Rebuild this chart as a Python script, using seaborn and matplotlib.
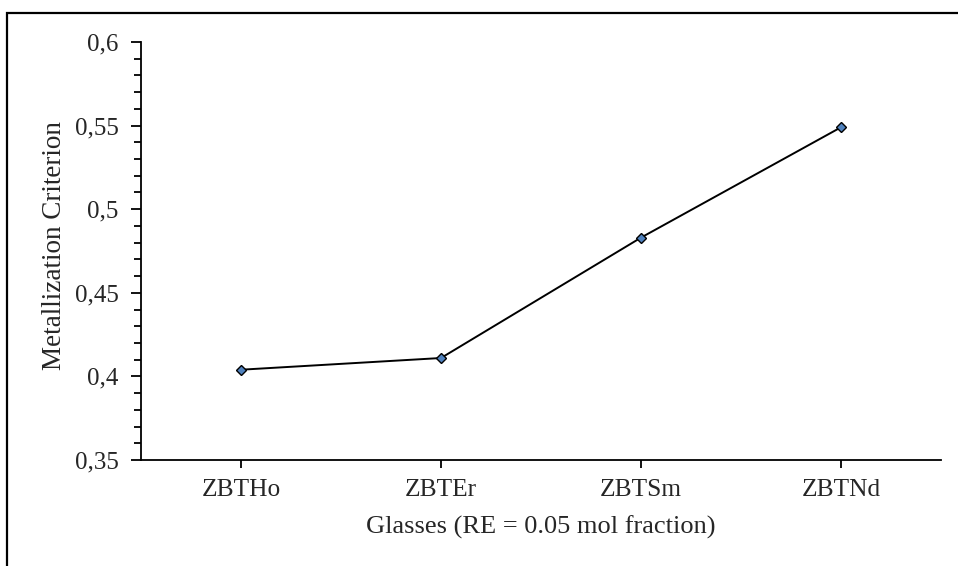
import numpy as np
import pandas as pd
import matplotlib
matplotlib.use("Agg")
import matplotlib.pyplot as plt
import seaborn as sns
from matplotlib.patches import Rectangle
from matplotlib.ticker import FuncFormatter, MultipleLocator

# dados
vidros = ["ZBTHo", "ZBTEr", "ZBTSm", "ZBTNd"]
criterio = [0.404, 0.411, 0.483, 0.549]

df = pd.DataFrame({"vidro": vidros, "criterio": criterio})

sns.set_style("white")
plt.rcParams["font.family"] = ["Liberation Serif", "DejaVu Serif"]

fig = plt.figure(figsize=(9.58, 5.66), dpi=100)
ax = fig.add_axes([141 / 958, 1 - 460 / 566, 800 / 958, 418 / 566])

sns.lineplot(data=df, x="vidro", y="criterio", ax=ax, color="black", linewidth=1.4,
             marker="D", markersize=5.5, markerfacecolor="#4F81BD",
             markeredgecolor="black", markeredgewidth=1.0)

ax.set_xlim(-0.5, 3.5)
ax.set_ylim(0.35, 0.6)
ax.yaxis.set_major_locator(MultipleLocator(0.05))
ax.yaxis.set_minor_locator(MultipleLocator(0.01))
ax.yaxis.set_major_formatter(FuncFormatter(lambda v, p: f"{round(v, 2):g}".replace(".", ",")))

for lado in ["top", "right"]:
    ax.spines[lado].set_visible(False)
for lado in ["left", "bottom"]:
    ax.spines[lado].set_color("black")
    ax.spines[lado].set_linewidth(1.3)

ax.tick_params(axis="y", which="major", direction="out", length=7, width=1.3,
               color="black", labelsize=18, pad=9, left=True)
ax.tick_params(axis="y", which="minor", direction="out", length=5, width=1.3,
               color="black", left=True)
ax.tick_params(axis="x", which="major", direction="out", length=6, width=1.3,
               color="black", labelsize=18.3, pad=8, bottom=True)

ax.set_xlabel("Glasses (RE = 0.05 mol fraction)", fontsize=19, labelpad=10)
ax.set_ylabel("Metallization Criterion", fontsize=19.5, labelpad=6, y=0.514)
ax.grid(False)

# moldura externa (cortada à direita e embaixo)
fig.patches.append(Rectangle((7 / 958, -0.2), 1.2, 1.2 - 13 / 566, transform=fig.transFigure,
                             fill=False, edgecolor="black", linewidth=1.6, clip_on=False))

plt.savefig("out.png", dpi=100)
plt.close()
